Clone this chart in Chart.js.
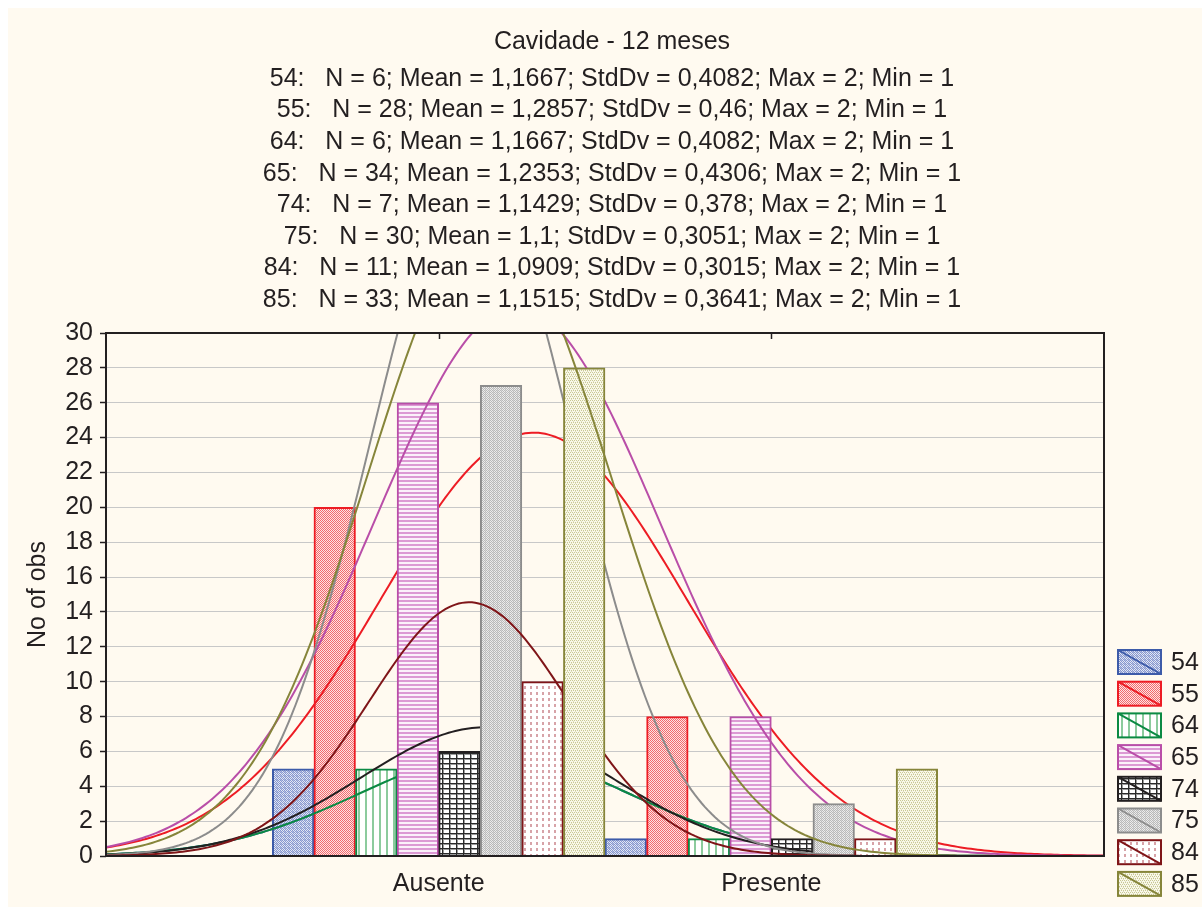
<!DOCTYPE html>
<html>
<head>
<meta charset="utf-8">
<title>Cavidade - 12 meses</title>
<script src="https://cdn.jsdelivr.net/npm/chart.js@4"></script>
<style>
  body { margin: 0; background: #fff; }
  #wrap { position: absolute; left: 8px; top: 8px; width: 1194px; height: 899px; background: #fffaf0; }
</style>
</head>
<body>
<div id="wrap"><canvas id="chart" width="1194" height="899"></canvas></div>
<script>
// observations per group, split by category
const categories = ['Ausente', 'Presente'];
const groups = ['54', '55', '64', '65', '74', '75', '84', '85'];
const ausente = [5, 20, 5, 26, 6, 27, 10, 28];
const presente = [1, 8, 1, 8, 1, 3, 1, 5];

// summary stats per group (also used for the fitted normal curves)
const nObs = [6, 28, 6, 34, 7, 30, 11, 33];
const means = [1.1667, 1.2857, 1.1667, 1.2353, 1.1429, 1.1, 1.0909, 1.1515];
const stdDevs = [0.4082, 0.46, 0.4082, 0.4306, 0.378, 0.3051, 0.3015, 0.3641];
const maxVals = [2, 2, 2, 2, 2, 2, 2, 2];
const minVals = [1, 1, 1, 1, 1, 1, 1, 1];

const colors = ['#3d5ba9', '#ed1c24', '#0b8a43', '#b94ea8', '#231f20', '#8c8c8c', '#7f1518', '#86853a'];
const FONT = '"Liberation Sans", Arial, sans-serif';
const FS = 25;
const TEXT = '#231f20';

// small tiles used as hatch fills for the bars
const makePattern = (w, h, draw) => {
    const c = document.createElement('canvas');
    c.width = w;
    c.height = h;
    const g = c.getContext('2d');
    draw(g);
    return document.getElementById('chart').getContext('2d').createPattern(c, 'repeat');
};
const px = (g, col, pts) => {
    g.fillStyle = col;
    pts.forEach(p => g.fillRect(p[0], p[1], p[2] || 1, p[3] || 1));
};

const patterns = [
    makePattern(4, 4, g => {
        px(g, '#e3e7f4', [[0, 0, 4, 4]]);
        px(g, '#8798cf', [[0, 0], [1, 1], [2, 2], [3, 3], [2, 0], [3, 1], [0, 2], [1, 3]]);
        px(g, '#b3bde1', [[1, 0], [0, 3]]);
    }),
    makePattern(4, 4, g => {
        px(g, '#fde3e3', [[0, 0, 4, 4]]);
        px(g, '#f26a6d', [[0, 0], [2, 0], [1, 1], [3, 1], [0, 2], [2, 2], [1, 3], [3, 3]]);
    }),
    makePattern(7, 1, g => {
        px(g, '#ffffff', [[0, 0, 7, 1]]);
        px(g, '#8ccb9d', [[0, 0, 2, 1]]);
    }),
    makePattern(1, 4, g => {
        px(g, '#fbf1fa', [[0, 0, 1, 4]]);
        px(g, '#dc9ad4', [[0, 0, 1, 2]]);
    }),
    makePattern(7, 5, g => {
        px(g, '#ffffff', [[0, 0, 7, 5]]);
        px(g, '#9a9a9a', [[0, 1, 7, 1], [1, 0, 1, 5]]);
        px(g, '#2a2a2a', [[0, 0, 7, 1], [0, 0, 1, 5]]);
    }),
    makePattern(4, 4, g => {
        px(g, '#ececec', [[0, 0, 4, 4]]);
        px(g, '#b9b9b9', [[0, 0], [2, 0], [1, 1], [3, 1], [0, 2], [2, 2], [1, 3], [3, 3]]);
        px(g, '#d6d6d6', [[1, 0], [1, 2]]);
    }),
    makePattern(6, 6, g => {
        px(g, '#ffffff', [[0, 0, 6, 6]]);
        px(g, '#d7a3a8', [[0, 0, 2, 3]]);
    }),
    makePattern(4, 4, g => {
        px(g, '#f9f8ea', [[0, 0, 4, 4]]);
        px(g, '#c9c894', [[0, 0], [2, 0], [1, 2], [3, 2]]);
        px(g, '#e0dfbe', [[1, 1], [3, 3]]);
    })
];

const fmt = v => String(v).replace('.', ',');
const statLines = groups.map((g, i) =>
    `${g}:   N = ${nObs[i]}; Mean = ${fmt(means[i])}; StdDv = ${fmt(stdDevs[i])}; Max = ${maxVals[i]}; Min = ${minVals[i]}`);

// fitted normal curve for each group, scaled to counts (bin width 1)
const normalCurve = (n, m, s) => {
    const pts = [];
    for (let k = 0; k <= 300; k++) {
        const x = k / 100;
        const z = (x - m) / s;
        pts.push({ x, y: n / (s * Math.sqrt(2 * Math.PI)) * Math.exp(-0.5 * z * z) });
    }
    return pts;
};

const datasets = [];
groups.forEach((g, i) => {
    // 8 bars side by side fill one unit around each category position
    const offset = -0.5 + (i + 0.5) / groups.length;
    datasets.push({
        type: 'bar',
        label: g,
        data: [
            { x: 1 + offset, y: ausente[i] },
            { x: 2 + offset, y: presente[i] }
        ],
        backgroundColor: patterns[i],
        borderColor: colors[i],
        borderWidth: 2,
        borderSkipped: 'start',
        grouped: false,
        barPercentage: 1,
        categoryPercentage: 1,
        order: 100 - 2 * i
    });
    datasets.push({
        type: 'line',
        label: g + ' normal',
        data: normalCurve(nObs[i], means[i], stdDevs[i]),
        borderColor: colors[i],
        borderWidth: 2,
        pointRadius: 0,
        tension: 0,
        fill: false,
        order: 99 - 2 * i
    });
});

const framePlugin = {
    id: 'frame',
    afterDraw(chart) {
        const { ctx, chartArea: a, scales } = chart;
        ctx.save();
        ctx.strokeStyle = TEXT;
        ctx.lineWidth = 2;
        ctx.strokeRect(a.left, a.top, a.right - a.left, a.bottom - a.top);
        // small inner ticks on the top edge
        ctx.lineWidth = 1.5;
        [1, 2].forEach(v => {
            const x = Math.round(scales.x.getPixelForValue(v)) + 0.5;
            ctx.beginPath();
            ctx.moveTo(x, a.top);
            ctx.lineTo(x, a.top + 6);
            ctx.stroke();
        });
        ctx.restore();
    }
};

const legendPlugin = {
    id: 'hatchLegend',
    afterDraw(chart) {
        const { ctx, chartArea: a } = chart;
        const bx = a.right + 14, by = a.bottom - 206, row = 31.7, bw = 43, bh = 24;
        ctx.save();
        ctx.font = `${FS}px ${FONT}`;
        ctx.textBaseline = 'middle';
        ctx.textAlign = 'left';
        groups.forEach((g, i) => {
            const y = by + i * row;
            ctx.fillStyle = patterns[i];
            ctx.fillRect(bx, y, bw, bh);
            ctx.strokeStyle = colors[i];
            ctx.lineWidth = 2;
            ctx.strokeRect(bx, y, bw, bh);
            ctx.beginPath();
            ctx.moveTo(bx, y);
            ctx.lineTo(bx + bw, y + bh);
            ctx.stroke();
            ctx.fillStyle = TEXT;
            ctx.fillText(g, bx + bw + 10, y + bh / 2 + 1);
        });
        ctx.restore();
    }
};

new Chart(document.getElementById('chart'), {
    type: 'bar',
    data: { datasets },
    options: {
        responsive: false,
        animation: false,
        layout: { padding: { left: 14, right: 0, top: 0, bottom: 0 } },
        plugins: {
            legend: { display: false },
            tooltip: { enabled: false },
            title: {
                display: true,
                text: 'Cavidade - 12 meses',
                color: TEXT,
                font: { family: FONT, size: FS, weight: 'normal', lineHeight: 1.2 },
                padding: { top: 19, bottom: 6.2 }
            },
            subtitle: {
                display: true,
                text: statLines,
                color: TEXT,
                font: { family: FONT, size: FS, weight: 'normal', lineHeight: 31.6 / FS },
                padding: { top: 0, bottom: 17 }
            }
        },
        scales: {
            x: {
                type: 'linear',
                min: 0,
                max: 3,
                offset: false,
                grid: { display: false, drawTicks: false, tickLength: 0, offset: false },
                border: { display: false },
                afterBuildTicks: scale => { scale.ticks = categories.map((c, i) => ({ value: i + 1 })); },
                afterFit: scale => { scale.height = 51; },
                ticks: {
                    color: TEXT,
                    padding: 13,
                    maxRotation: 0,
                    font: { family: FONT, size: FS },
                    callback: v => categories[v - 1] || ''
                }
            },
            y: {
                min: 0,
                max: 30,
                afterFit: scale => { scale.width = 84; },
                border: { display: false },
                grid: {
                    color: '#c8c8c8',
                    borderDash: [4, 3],
                    lineWidth: 1,
                    tickColor: TEXT,
                    tickLength: 6,
                    tickWidth: 1.5,
                    tickBorderDash: []
                },
                ticks: {
                    stepSize: 2,
                    color: TEXT,
                    padding: 7,
                    font: { family: FONT, size: FS }
                },
                title: {
                    display: true,
                    text: 'No of obs',
                    color: TEXT,
                    font: { family: FONT, size: FS },
                    padding: { top: 1, bottom: 0 }
                }
            },
            // empty right-hand axis that reserves room for the legend
            yLegend: {
                position: 'right',
                min: 0,
                max: 30,
                afterFit: scale => { scale.width = 98; },
                grid: { display: false, drawOnChartArea: false },
                border: { display: false },
                ticks: { display: false }
            }
        }
    },
    plugins: [framePlugin, legendPlugin]
});
</script>
</body>
</html>
